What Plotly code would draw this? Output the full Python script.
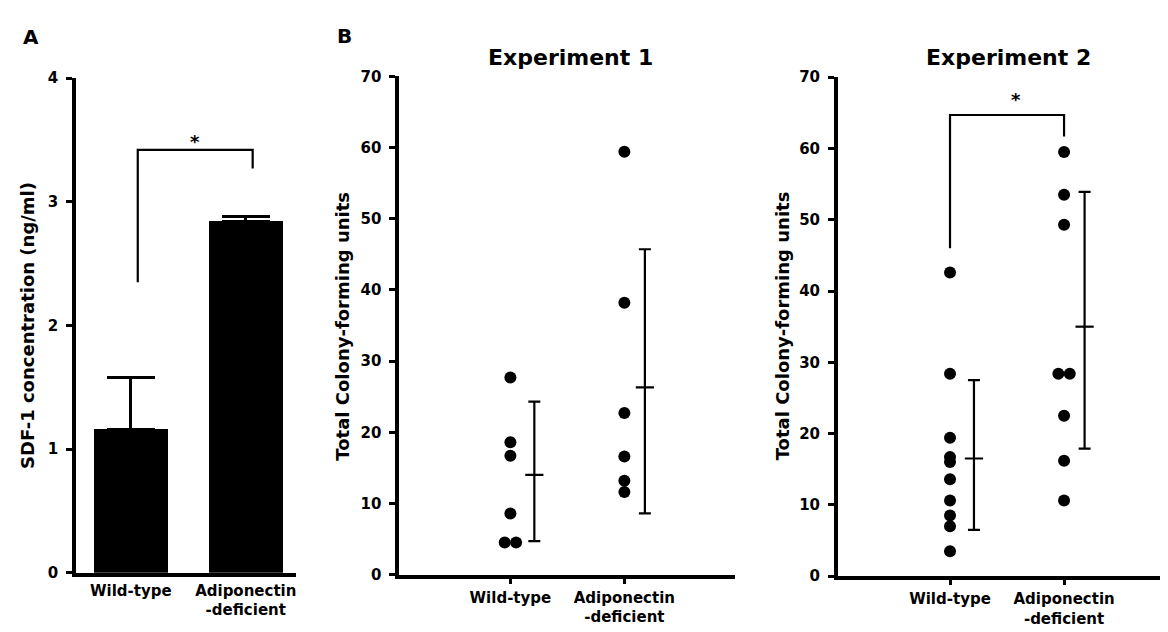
import plotly.graph_objects as go

# ---------------- data ----------------
categories = ["Wild-type", "Adiponectin<br>-deficient"]
cat_pos = [0, 1]

# Panel A: SDF-1 concentration (ng/ml)
sdf1_mean = [1.16, 2.84]
sdf1_err = [0.42, 0.04]
bracket_a_x = [0.06, 0.06, 1.06, 1.06]
bracket_a_y = [2.35, 3.42, 3.42, 3.27]

# Panel B, Experiment 1: total colony-forming units
exp1_wt = [27.7, 18.6, 16.7, 8.6, 4.5, 4.5]
exp1_wt_jitter = [0, 0, 0, 0, -0.05, 0.05]
exp1_ad = [59.4, 38.2, 22.7, 16.6, 13.2, 11.6]
exp1_ad_jitter = [0, 0, 0, 0, 0, 0]
exp1_mean = [14.0, 26.3]
exp1_upper = [24.3, 45.7]
exp1_lower = [4.7, 8.6]

# Panel B, Experiment 2
exp2_wt = [42.6, 28.4, 19.4, 16.7, 16.0, 13.6, 10.6, 8.5, 7.0, 3.5]
exp2_wt_jitter = [0, 0, 0, 0, 0, 0, 0, 0, 0, 0]
exp2_ad = [59.5, 53.5, 49.3, 28.4, 28.4, 22.5, 16.2, 10.6]
exp2_ad_jitter = [0, 0, 0, -0.05, 0.05, 0, 0, 0]
exp2_mean = [16.5, 35.0]
exp2_upper = [27.5, 53.9]
exp2_lower = [6.5, 17.9]
bracket_b_x = [0.0, 0.0, 1.0, 1.0]
bracket_b_y = [46.0, 64.7, 64.7, 61.7]

# ---------------- styling ----------------
W, H = 1168, 632
FONT = "DejaVu Sans"
BLACK = "black"
sd_offset = [0.21, 0.18]


def px_x(p):
    return p / W


def px_y(p):
    return 1 - p / H


fig = go.Figure()

# Panel A bars
fig.add_trace(go.Bar(
    x=cat_pos, y=sdf1_mean, width=0.64, marker=dict(color=BLACK, line=dict(width=0)),
    error_y=dict(type="data", symmetric=False, array=sdf1_err, arrayminus=[0, 0],
                 color=BLACK, thickness=3, width=24),
    xaxis="x", yaxis="y", showlegend=False, hoverinfo="y"))
fig.add_trace(go.Scatter(x=bracket_a_x, y=bracket_a_y, mode="lines",
                         line=dict(color=BLACK, width=2.2), xaxis="x", yaxis="y",
                         showlegend=False, hoverinfo="skip"))


def add_dots(values, jitter, cat, xa, ya):
    fig.add_trace(go.Scatter(
        x=[cat + j for j in jitter], y=values, mode="markers",
        marker=dict(color=BLACK, size=12, line=dict(width=0)),
        xaxis=xa, yaxis=ya, showlegend=False, cliponaxis=False))


def add_sd(mean, upper, lower, xa, ya):
    xs = [c + o for c, o in zip(cat_pos, sd_offset)]
    fig.add_trace(go.Scatter(
        x=xs, y=mean, mode="markers",
        marker=dict(symbol="line-ew", size=13, color=BLACK, line=dict(color=BLACK, width=2.2)),
        error_y=dict(type="data", symmetric=False,
                     array=[u - m for u, m in zip(upper, mean)],
                     arrayminus=[m - l for m, l in zip(mean, lower)],
                     color=BLACK, thickness=2.2, width=6),
        xaxis=xa, yaxis=ya, showlegend=False))


add_dots(exp1_wt, exp1_wt_jitter, 0, "x2", "y2")
add_dots(exp1_ad, exp1_ad_jitter, 1, "x2", "y2")
add_sd(exp1_mean, exp1_upper, exp1_lower, "x2", "y2")

add_dots(exp2_wt, exp2_wt_jitter, 0, "x3", "y3")
add_dots(exp2_ad, exp2_ad_jitter, 1, "x3", "y3")
add_sd(exp2_mean, exp2_upper, exp2_lower, "x3", "y3")
fig.add_trace(go.Scatter(x=bracket_b_x, y=bracket_b_y, mode="lines",
                         line=dict(color=BLACK, width=2.2), xaxis="x3", yaxis="y3",
                         showlegend=False, hoverinfo="skip"))

tickfont = dict(family=FONT, size=15, color=BLACK, weight="bold")
catfont = dict(family=FONT, size=15, color=BLACK, weight="bold")


def yaxis(domain, rng, dtick, anchor):
    return dict(domain=domain, range=rng, dtick=dtick, anchor=anchor,
                showline=True, linecolor=BLACK, linewidth=3.5, mirror=False,
                ticks="outside", ticklen=6, tickwidth=2.5, tickcolor=BLACK,
                tickfont=tickfont, ticklabelstandoff=5, showgrid=False, zeroline=False,
                fixedrange=True)


def xaxis(domain, rng, anchor, ticks):
    return dict(domain=domain, range=rng, anchor=anchor,
                tickvals=cat_pos, ticktext=categories,
                showline=True, linecolor=BLACK, linewidth=4,
                ticks=ticks, ticklen=5, tickwidth=2.5, tickcolor=BLACK,
                tickfont=catfont, ticklabelstandoff=1, showgrid=False, zeroline=False,
                fixedrange=True)


fig.update_layout(
    width=W, height=H, margin=dict(l=0, r=0, t=0, b=0),
    paper_bgcolor="white", plot_bgcolor="white",
    font=dict(family=FONT, color=BLACK),
    xaxis=xaxis([px_x(68), px_x(288)], [-0.478, 1.435], "y", ""),
    yaxis=yaxis([px_y(572), px_y(63)], [0, 4], 1, "x"),
    xaxis2=xaxis([px_x(391.5), px_x(728)], [-0.976, 1.974], "y2", "outside"),
    yaxis2=yaxis([px_y(574), px_y(61)], [0, 70], 10, "x2"),
    xaxis3=xaxis([px_x(830.5), px_x(1167)], [-0.984, 1.964], "y3", "outside"),
    yaxis3=yaxis([px_y(575.5), px_y(62)], [0, 70], 10, "x3"),
    bargap=0,
)

ann_bold = lambda size: dict(family=FONT, size=size, color=BLACK, weight="bold")
annotations = [
    dict(text="A", x=px_x(23), y=px_y(21), xref="paper", yref="paper",
         showarrow=False, font=ann_bold(20), xanchor="center", yanchor="middle"),
    dict(text="B", x=px_x(337), y=px_y(20), xref="paper", yref="paper",
         showarrow=False, font=ann_bold(20), xanchor="center", yanchor="middle"),
    dict(text="Experiment 1", x=px_x(563), y=px_y(42), xref="paper", yref="paper",
         showarrow=False, font=ann_bold(22), xanchor="center", yanchor="middle"),
    dict(text="Experiment 2", x=px_x(1001), y=px_y(42), xref="paper", yref="paper",
         showarrow=False, font=ann_bold(22), xanchor="center", yanchor="middle"),
    dict(text="SDF-1 concentration (ng/ml)", x=px_x(20), y=px_y(317), xref="paper",
         yref="paper", showarrow=False, textangle=-90, font=ann_bold(18),
         xanchor="center", yanchor="middle"),
    dict(text="Total Colony-forming units", x=px_x(335), y=px_y(318), xref="paper",
         yref="paper", showarrow=False, textangle=-90, font=ann_bold(18),
         xanchor="center", yanchor="middle"),
    dict(text="Total Colony-forming units", x=px_x(776), y=px_y(318), xref="paper",
         yref="paper", showarrow=False, textangle=-90, font=ann_bold(18),
         xanchor="center", yanchor="middle"),
    dict(text="*", x=0.56, y=3.49, xref="x", yref="y", showarrow=False,
         font=ann_bold(18), xanchor="center", yanchor="middle"),
    dict(text="*", x=0.58, y=66.9, xref="x3", yref="y3", showarrow=False,
         font=ann_bold(18), xanchor="center", yanchor="middle"),
]
fig.update_layout(annotations=annotations)

fig.write_html("out.html")
